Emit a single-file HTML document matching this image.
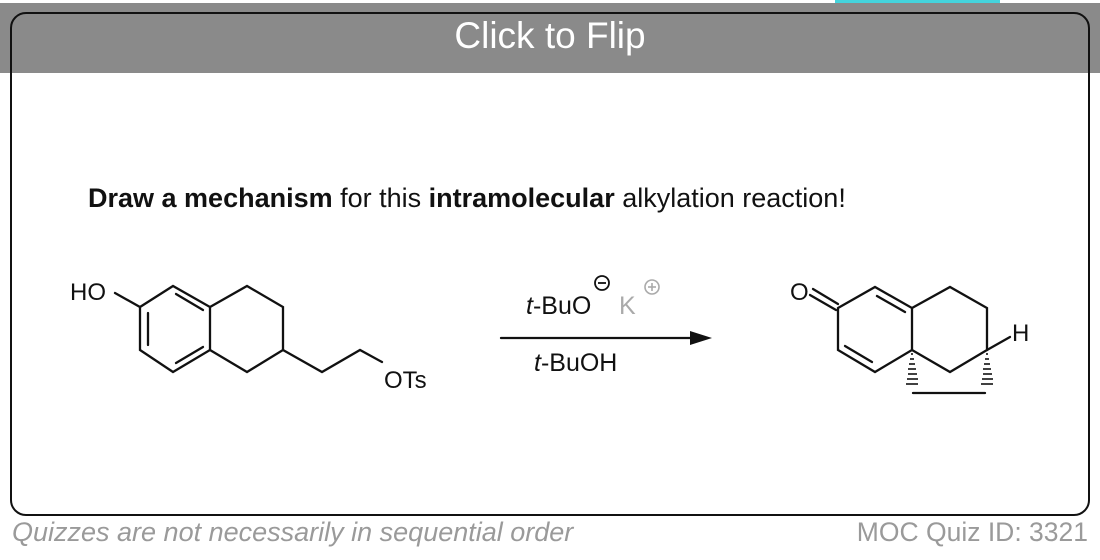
<!DOCTYPE html>
<html><head><meta charset="utf-8"><style>
html,body{margin:0;padding:0;background:#fff;}
body{width:1100px;height:560px;position:relative;overflow:hidden;font-family:"Liberation Sans",Arial,sans-serif;}
.band{position:absolute;left:0;top:3px;width:1100px;height:70px;background:#8a8a8a;}
.card{position:absolute;left:10px;top:12px;width:1076px;height:500px;border:2px solid #111;border-radius:16px;}
.title{position:absolute;left:0;width:1100px;top:15px;text-align:center;color:#fff;font-size:37px;}
.q{position:absolute;left:88px;top:183px;font-size:27px;color:#111;white-space:nowrap;}
.f1{position:absolute;left:12px;top:517px;font-size:27px;color:#9a9a9a;font-style:italic;white-space:nowrap;}
.f2{position:absolute;right:12px;top:517px;font-size:26.5px;color:#9a9a9a;white-space:nowrap;}
.cy{position:absolute;left:835px;top:0;width:165px;height:3px;background:#45d4dc;}
</style></head><body>
<div class="band"></div>
<div class="cy"></div>
<div class="card"></div>
<div class="title">Click to Flip</div>
<div class="q"><b>Draw a mechanism</b> for this <b>intramolecular</b> alkylation reaction!</div>
<svg width="1100" height="560" style="position:absolute;left:0;top:0" font-family="Liberation Sans, Arial, sans-serif">
<g stroke="#111" stroke-width="2.3" fill="none" stroke-linecap="round">
<polyline points="115,293 140,307 173,286 210,307 210,350 173,372 140,350 140,307"/>
<line x1="148" y1="313" x2="148" y2="345"/>
<line x1="176" y1="294" x2="203" y2="310"/>
<line x1="176" y1="363" x2="203" y2="347"/>
<polyline points="210,307 247,286 283,307 283,350 247,372 210,350"/>
<polyline points="283,350 322,372 360,350 382,362"/>
<line x1="501" y1="338" x2="690" y2="338"/>
<line x1="813" y1="289" x2="838" y2="304"/>
<line x1="810" y1="295" x2="836" y2="310"/>
<polyline points="838,308 875,287 912,308 912,350 875,372 838,350 838,308"/>
<line x1="877" y1="296" x2="905" y2="312"/>
<line x1="845" y1="346" x2="872" y2="362"/>
<polyline points="912,308 950,287 987,308 987,350 950,372 912,350"/>
<line x1="987" y1="350" x2="1010" y2="337"/>
<line x1="913" y1="393" x2="985" y2="393"/>
</g>
<polygon points="690,331 712,338 690,345" fill="#111"/>
<g stroke="#111" stroke-width="1.6">
<line x1="911" y1="354" x2="913" y2="354"/><line x1="910" y1="359" x2="914" y2="359"/><line x1="909" y1="364" x2="915" y2="364"/><line x1="908" y1="369" x2="916" y2="369"/><line x1="908" y1="374" x2="917" y2="374"/><line x1="907" y1="379" x2="918" y2="379"/><line x1="906" y1="384" x2="918" y2="384"/>
<line x1="986" y1="354" x2="988" y2="354"/><line x1="985" y1="359" x2="989" y2="359"/><line x1="984" y1="364" x2="990" y2="364"/><line x1="983" y1="369" x2="991" y2="369"/><line x1="983" y1="374" x2="992" y2="374"/><line x1="982" y1="379" x2="993" y2="379"/><line x1="981" y1="384" x2="993" y2="384"/>
</g>
<g font-size="24" fill="#111">
<text x="70" y="300">HO</text>
<text x="384" y="388">OTs</text>
<text x="526" y="314" font-size="25"><tspan font-style="italic">t</tspan>-BuO</text>
<text x="534" y="371" font-size="25"><tspan font-style="italic">t</tspan>-BuOH</text>
<text x="790" y="300">O</text>
<text x="1012" y="341">H</text>
<text x="619" y="314" fill="#aaa" font-size="25">K</text>
</g>
<circle cx="602" cy="283" r="7" fill="none" stroke="#111" stroke-width="1.8"/>
<line x1="598" y1="283" x2="606" y2="283" stroke="#111" stroke-width="1.8"/>
<circle cx="652" cy="287" r="7" fill="none" stroke="#aaa" stroke-width="1.6"/>
<line x1="648" y1="287" x2="656" y2="287" stroke="#aaa" stroke-width="1.6"/>
<line x1="652" y1="283" x2="652" y2="291" stroke="#aaa" stroke-width="1.6"/>
</svg>
<div class="f1">Quizzes are not necessarily in sequential order</div>
<div class="f2">MOC Quiz ID: 3321</div>
</body></html>
